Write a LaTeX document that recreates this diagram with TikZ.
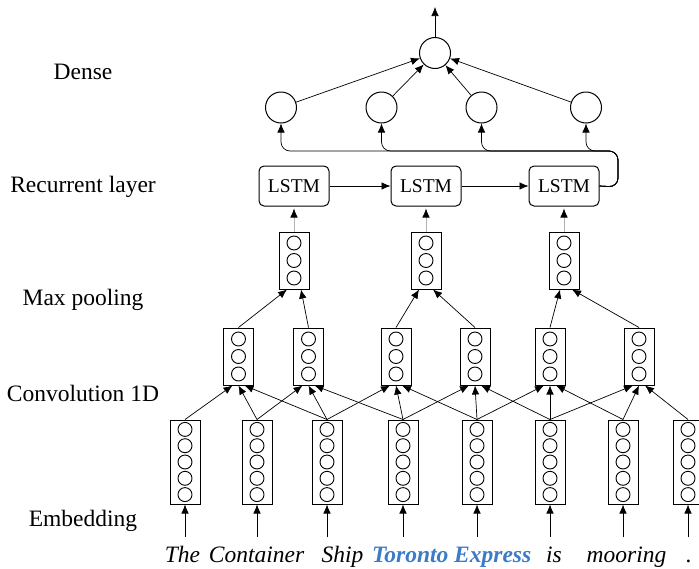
\documentclass[tikz,border=0pt]{standalone}
\usepackage{fontspec}
\setmainfont{Liberation Serif}
\usetikzlibrary{arrows.meta}
\definecolor{tblue}{RGB}{59,123,200}
\begin{document}
\begin{tikzpicture}[x=1pt,y=-1pt,
  arr/.style={-{Latex[length=9pt,width=7.5pt]}, line width=0.7pt},
  garr/.style={-{Latex[length=9pt,width=7.5pt,color=black]}, line width=0.7pt, draw=gray!60},
  vbox/.style={draw, line width=1pt, minimum width=30pt, inner sep=0pt},
  neuron/.style={circle, draw, line width=0.9pt, minimum size=14pt, inner sep=0pt},
  dn/.style={circle, draw, line width=1pt, minimum size=31pt, inner sep=0pt},
  lstm/.style={draw, rounded corners=5pt, line width=1pt, minimum width=70pt, minimum height=40pt, inner sep=0pt, font=\fontsize{19.5}{22}\selectfont},
  lbl/.style={font=\fontsize{23.5}{26}\selectfont, anchor=base, inner sep=0pt},
  word/.style={font=\fontsize{23.5}{26}\selectfont\itshape, anchor=base, inner sep=0pt}]
\useasboundingbox (0,0) rectangle (699,568);

% labels
\node[lbl] (ldense) at (83,79.5) {Dense};
\node[lbl] (lrec) at (83,192.5) {Recurrent layer};
\node[lbl] (lmax) at (83,305) {Max pooling};
\node[lbl] (lconv) at (83,401.5) {Convolution 1D};
\node[lbl] (lemb) at (83,526.5) {Embedding};

% embedding
\foreach \x [count=\i] in {185,257,327,403,477,550,623,688} {
  \node[vbox, minimum height=84pt] (e\i) at (\x,462) {};
  \foreach \k in {1,...,5}
    \node[neuron] (e\i n\k) at (\x,{462+16.3*(\k-3)}) {};
  \coordinate (w\i) at (\x,537);
  \draw[arr] (w\i) -- (e\i.south);
}

% convolution
\foreach \x [count=\i] in {238.5,308.5,396,475,550,639} {
  \node[vbox, minimum height=57pt] (c\i) at (\x,356.5) {};
  \foreach \k in {1,2,3}
    \node[neuron] (c\i n\k) at (\x,{356.5+17.5*(\k-2)}) {};
}
\foreach \i in {1,...,6} {
  \pgfmathtruncatemacro\j{\i+1}
  \pgfmathtruncatemacro\k{\i+2}
  \draw[arr] (e\i.north) -- ([xshift=-6pt]c\i.south);
  \draw[arr] (e\j.north) -- (c\i.south);
  \draw[arr] (e\k.north) -- ([xshift=6pt]c\i.south);
}

% max pooling
\foreach \x [count=\i] in {294,426,564} {
  \node[vbox, minimum height=57pt] (m\i) at (\x,260.5) {};
  \foreach \k in {1,2,3}
    \node[neuron] (m\i n\k) at (\x,{260.5+17.5*(\k-2)}) {};
}
\draw[arr] (c1.north) -- ([xshift=-7pt]m1.south);
\draw[arr] (c2.north) -- ([xshift=7pt]m1.south);
\draw[arr] (c3.north) -- ([xshift=-7pt]m2.south);
\draw[arr] (c4.north) -- ([xshift=7pt]m2.south);
\draw[arr] (c5.north) -- ([xshift=-4pt]m3.south);
\draw[arr] (c6.north) -- ([xshift=8pt]m3.south);

% LSTM
\node[lstm] (l1) at (294,186) {LSTM};
\node[lstm] (l2) at (426,186) {LSTM};
\node[lstm] (l3) at (564,186) {LSTM};
\foreach \i in {1,2,3}
  \draw[garr, shorten >=2pt] (m\i.north) -- (l\i.south);
\draw[arr] (l1) -- (l2);
\draw[arr] (l2) -- (l3);

% dense
\node[dn] (d1) at (281,107.5) {};
\node[dn] (d2) at (381.5,107.5) {};
\node[dn] (d3) at (481.5,107.5) {};
\node[dn] (d4) at (586,107.5) {};
\node[dn] (t) at (435,53) {};
\coordinate (rr) at (618,187);
\coordinate (ru) at (618,151);
\foreach \i in {1,...,4}
  \draw[arr, rounded corners=9pt] (l3.east) -- (rr) -- (ru) -- (ru -| d\i) -- (d\i.south);
\foreach \i in {1,...,4}
  \draw[arr] (d\i) -- (t);
\coordinate (o) at (435,7);
\draw[arr] (t) -- (o);

% words
\node[word] (w1t) at (182.5,562) {The};
\node[word] (w2t) at (256.5,562) {Container};
\node[word] (w3t) at (342.5,562) {Ship};
\node[word, text=tblue, font=\fontsize{23.5}{26}\selectfont\itshape\bfseries] (w4t) at (451.7,562) {Toronto Express};
\node[word] (w5t) at (554,562) {is};
\node[word] (w6t) at (626.5,562) {mooring};
\node[word] (w7t) at (689,562) {.};
\end{tikzpicture}
\end{document}
